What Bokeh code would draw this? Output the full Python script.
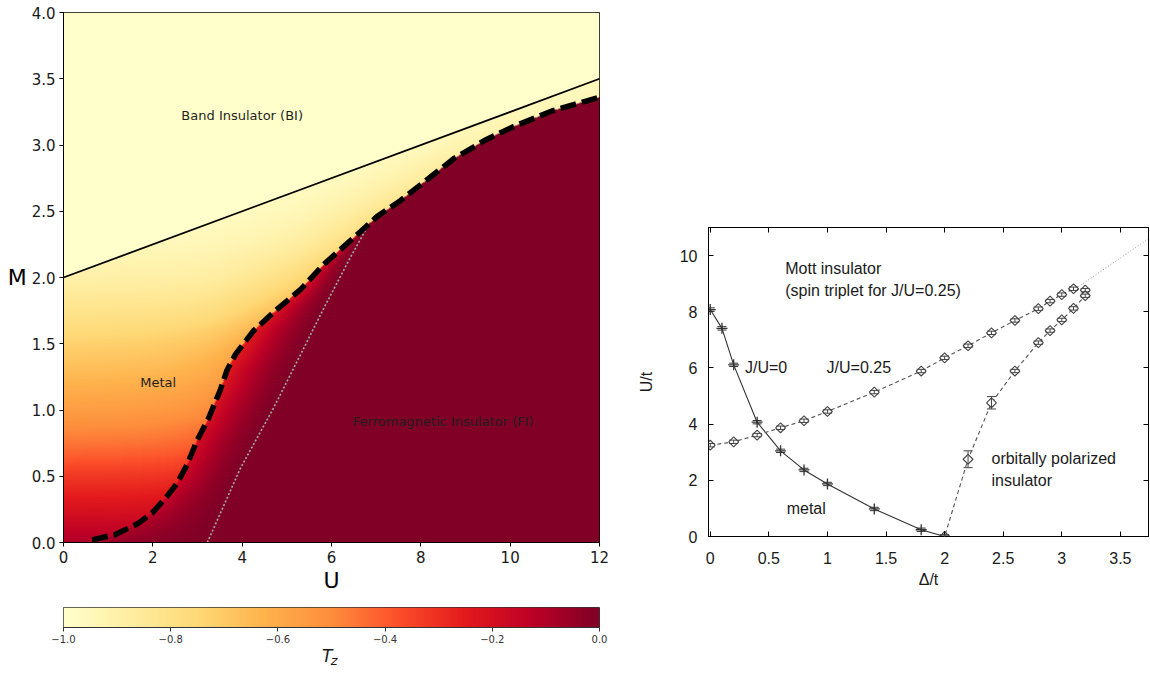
import numpy as np
from bokeh.plotting import figure
from bokeh.layouts import row, column
from bokeh.models import (Range1d, LinearColorMapper, FixedTicker, Label, ColumnDataSource,
                          Whisker, TeeHead, LinearAxis, CustomJSTickFormatter)
from bokeh.embed import file_html
from bokeh.resources import INLINE

# ---------------- data: left panel (phase diagram, T_z map) ----------------
dash_U = [0.64, 1.16, 1.65, 1.98, 2.32, 2.55, 2.77, 2.99, 3.25, 3.51, 3.66, 3.85, 4.26,
          4.78, 5.31, 5.83, 6.43, 7.02, 7.54, 8.07, 8.75, 9.46, 10.08, 10.96, 12.0]
dash_M = [0.02, 0.06, 0.14, 0.22, 0.35, 0.45, 0.59, 0.77, 0.94, 1.15, 1.30, 1.42, 1.60,
          1.76, 1.91, 2.10, 2.28, 2.46, 2.58, 2.72, 2.90, 3.04, 3.14, 3.26, 3.36]
dot_U = [3.22, 3.96, 4.71, 5.31, 5.83, 6.42, 6.80]
dot_M = [0.00, 0.56, 1.02, 1.42, 1.77, 2.15, 2.38]
bi_U = [0.0, 12.0]
bi_M = [2.0, 3.5]
# T_z read along the left edge of the metallic region
metal_M = [0.0, 0.25, 0.5, 0.75, 1.0, 1.25, 1.5, 1.75, 2.0, 2.25, 2.5, 3.0]
metal_Tz = [-0.10, -0.22, -0.33, -0.46, -0.56, -0.65, -0.73, -0.82, -0.90, -0.95, -0.98, -1.0]
# T_z just inside the FI side of the dashed boundary
edge_M = [0.0, 0.5, 1.0, 1.45, 2.0, 2.4]
edge_Tz = [-0.08, -0.17, -0.21, -0.26, -0.20, -0.10]
# extra T_z rise in the metal right next to the boundary
glow_M = [0.0, 0.5, 1.0, 1.5, 2.0, 2.5, 3.0, 3.5]
glow_dT = [0.0, 0.03, 0.06, 0.12, 0.18, 0.17, 0.10, 0.05]
u_ticks = [0, 2, 4, 6, 8, 10, 12]
m_ticks = [0.0, 0.5, 1.0, 1.5, 2.0, 2.5, 3.0, 3.5, 4.0]
cbar_ticks = [-1.0, -0.8, -0.6, -0.4, -0.2, 0.0]

# ---------------- data: right panel ----------------
j0_D = [0.0, 0.1, 0.2, 0.4, 0.6, 0.8, 1.0, 1.4, 1.8, 2.0]
j0_U = [8.08, 7.41, 6.11, 4.07, 3.05, 2.37, 1.87, 0.98, 0.24, 0.0]
j0_err = [0.06, 0.06, 0.06, 0.06, 0.06, 0.06, 0.06, 0.06, 0.06, 0.06]
j25_D = [0.0, 0.2, 0.4, 0.6, 0.8, 1.0, 1.4, 1.8, 2.0, 2.2, 2.4, 2.6, 2.8, 2.9, 3.0, 3.1, 3.2,
         3.2, 3.1, 3.0, 2.9, 2.8, 2.6, 2.4, 2.2, 2.0]
j25_U = [3.25, 3.37, 3.61, 3.87, 4.12, 4.45, 5.14, 5.89, 6.36, 6.79, 7.25, 7.69, 8.11, 8.38,
         8.61, 8.82, 8.77, 8.57, 8.12, 7.71, 7.33, 6.90, 5.89, 4.76, 2.75, 0.0]
j25_err = [0.06, 0.06, 0.06, 0.06, 0.06, 0.06, 0.06, 0.06, 0.06, 0.06, 0.06, 0.06, 0.06, 0.06,
           0.06, 0.06, 0.06, 0.06, 0.06, 0.06, 0.06, 0.06, 0.06, 0.22, 0.30, 0.06]
fit_D = [3.12, 3.74]
fit_U = [8.83, 10.6]
d_ticks = [0, 0.5, 1, 1.5, 2, 2.5, 3, 3.5]
ut_ticks = [0, 2, 4, 6, 8, 10]

# ---------------- colour map (YlOrRd) ----------------
ylorrd9 = ['#ffffcc', '#ffeda0', '#fed976', '#feb24c', '#fd8d3c', '#fc4e2a', '#e31a1c', '#bd0026', '#800026']


def ramp(cols, n):
    rgb = np.array([[int(c[i:i + 2], 16) for i in (1, 3, 5)] for c in cols], float)
    pos = np.linspace(0, 1, len(cols))
    out = []
    for t in np.linspace(0, 1, n):
        r = [int(round(np.interp(t, pos, rgb[:, k]))) for k in range(3)]
        out.append('#%02x%02x%02x' % tuple(r))
    return out


mapper = LinearColorMapper(palette=ramp(ylorrd9, 256), low=-1.0, high=0.0)

# ---------------- T_z field built from the boundaries read above ----------------
NX, NY = 536, 530
uc = (np.arange(NX) + 0.5) * 12.0 / NX
mc = (np.arange(NY) + 0.5) * 4.0 / NY
UU, MM = np.meshgrid(uc, mc)
pxu, pxm = NX / 12.0, NY / 4.0
m_bnd = np.interp(UU, dash_U, dash_M, left=0.0)
u_bnd = np.interp(MM, dash_M, dash_U)
fi = (UU >= dash_U[0]) & (MM < m_bnd)
bi = MM > np.interp(UU, bi_U, bi_M)
h = np.abs(u_bnd - UU) * pxu
v = np.abs(MM - m_bnd) * pxm
dist = h * v / np.sqrt(h ** 2 + v ** 2 + 1e-9)
tz_metal = np.interp(MM, metal_M, metal_Tz) + np.interp(MM, glow_M, glow_dT) * np.exp(-dist / 40.0)
u_dot = np.interp(MM, dot_M, dot_U)
wid = np.where(MM <= dot_M[-1], np.maximum(u_dot - u_bnd, 1e-3), 1e-3)
frac = np.clip((UU - u_bnd) / wid, 0, 1)
tz_fi = np.interp(MM, edge_M, edge_Tz) * (1 - frac) ** 1.5
Tz = np.clip(np.where(fi, tz_fi, np.where(bi, -1.0, tz_metal)), -1.0, 0.0)

MPL = "DejaVu Sans"
GNU = "Liberation Sans"

# ---------------- left panel ----------------
p1 = figure(width=620, height=597, x_range=Range1d(0, 12), y_range=Range1d(0, 4),
            output_backend="svg", toolbar_location=None,
            min_border_left=63, min_border_right=21, min_border_top=12, min_border_bottom=55)
p1.image(image=[Tz], x=0, y=0, dw=12, dh=4, color_mapper=mapper)
p1.line(bi_U, bi_M, line_color="black", line_width=1.8)
p1.line(dot_U, dot_M, line_color="#a9a9b2", line_width=1.6, line_dash="2 2")
p1.line(dash_U, dash_M, line_color="black", line_width=5.5, line_dash="16 6")
for (tx, ty, tt) in [(4.0, 3.22, "Band Insulator (BI)"), (2.12, 1.21, "Metal"),
                     (8.5, 0.91, "Ferromagnetic Insulator (FI)")]:
    p1.add_layout(Label(x=tx, y=ty, text=tt, text_align="center", text_baseline="middle",
                        text_font=MPL, text_font_size="13px", text_color="#1f1f1f"))
p1.xaxis.ticker = FixedTicker(ticks=u_ticks)
p1.yaxis.ticker = FixedTicker(ticks=m_ticks)
p1.yaxis.formatter = CustomJSTickFormatter(code="return tick.toFixed(1);")
p1.xaxis.axis_label = "U"
p1.yaxis.axis_label = "M"
p1.yaxis.axis_label_orientation = "horizontal"
for ax in (p1.xaxis[0], p1.yaxis[0]):
    ax.axis_label_text_font = MPL
    ax.axis_label_text_font_size = "22px"
    ax.axis_label_text_font_style = "normal"
    ax.axis_label_text_color = "black"
    ax.axis_label_standoff = 2
    ax.major_label_text_font = MPL
    ax.major_label_text_font_size = "15px"
    ax.major_label_text_color = "#1a1a1a"
    ax.major_tick_out = 4
    ax.major_tick_in = 0
    ax.major_label_standoff = 4
    ax.minor_tick_line_color = None
    ax.axis_line_color = "black"
    ax.major_tick_line_color = "black"
p1.grid.visible = False
p1.outline_line_color = "black"
p1.outline_line_width = 1

# ---------------- colour bar ----------------
p2 = figure(width=620, height=50, x_range=Range1d(-1, 0), y_range=Range1d(0, 1),
            output_backend="svg", toolbar_location=None,
            min_border_left=63, min_border_right=21, min_border_top=10, min_border_bottom=20)
p2.image(image=[np.linspace(-1, 0, 256)[None, :]], x=-1, y=0, dw=1, dh=1, color_mapper=mapper)
p2.yaxis.visible = False
p2.grid.visible = False
p2.outline_line_color = "#333333"
xa = p2.xaxis[0]
xa.ticker = FixedTicker(ticks=cbar_ticks)
xa.formatter = CustomJSTickFormatter(code="return tick.toFixed(1).replace('-', '\\u2212');")
xa.major_label_text_font = MPL
xa.major_label_text_font_size = "10px"
xa.major_label_text_color = "#333333"
xa.major_tick_out = 4
xa.major_tick_in = 0
xa.major_label_standoff = 3
xa.minor_tick_line_color = None
xa.major_tick_line_color = "#333333"
xa.axis_line_color = "#333333"

# colour-bar title T_z (own strip so the text stays inside a frame)
p4 = figure(width=620, height=26, x_range=Range1d(-1, 0), y_range=Range1d(0, 26),
            output_backend="svg", toolbar_location=None,
            min_border_left=63, min_border_right=21, min_border_top=0, min_border_bottom=0)
p4.axis.visible = False
p4.grid.visible = False
p4.outline_line_color = None
p4.add_layout(Label(x=-0.508, y=17.5, text="T", text_align="center", text_baseline="middle",
                    text_font=MPL, text_font_style="italic", text_font_size="17px", text_color="#1a1a1a"))
p4.add_layout(Label(x=-0.495, y=13.0, text="z", text_align="center", text_baseline="middle",
                    text_font=MPL, text_font_style="italic", text_font_size="13px", text_color="#1a1a1a"))

# ---------------- right panel ----------------
p3 = figure(width=530, height=673, x_range=Range1d(-0.015, 3.74), y_range=Range1d(0, 11),
            output_backend="svg", toolbar_location=None,
            min_border_left=88, min_border_right=2, min_border_top=227, min_border_bottom=137)
p3.grid.visible = False
p3.outline_line_color = "black"
p3.add_layout(LinearAxis(), "above")
p3.add_layout(LinearAxis(), "right")
fmt = "return String(tick);"
for ax in p3.xaxis + p3.yaxis:
    ax.major_tick_in = 5
    ax.major_tick_out = 0
    ax.minor_tick_line_color = None
    ax.axis_line_color = "black"
    ax.major_tick_line_color = "black"
    ax.major_label_text_font = GNU
    ax.major_label_text_font_size = "16px"
    ax.major_label_text_color = "#1a1a1a"
    ax.major_label_standoff = 11
for ax in p3.xaxis:
    ax.ticker = FixedTicker(ticks=d_ticks)
for ax in p3.yaxis:
    ax.ticker = FixedTicker(ticks=ut_ticks)
p3.above[0].formatter = CustomJSTickFormatter(code="return '';")
p3.right[0].formatter = CustomJSTickFormatter(code="return '';")
p3.above[0].major_label_standoff = 0
p3.right[0].major_label_standoff = 0
p3.below[0].major_label_standoff = 15
p3.below[0].formatter = CustomJSTickFormatter(code=fmt)
p3.left[0].formatter = CustomJSTickFormatter(code=fmt)
p3.below[0].axis_label = "\u0394/t"
p3.left[0].axis_label = "U/t"
for ax in (p3.below[0], p3.left[0]):
    ax.axis_label_text_font = GNU
    ax.axis_label_text_font_size = "16px"
    ax.axis_label_text_font_style = "normal"
    ax.axis_label_text_color = "#1a1a1a"
p3.below[0].axis_label_standoff = 4
p3.left[0].axis_label_standoff = 22

src0 = ColumnDataSource(dict(D=j0_D, U=j0_U, lo=[a - b for a, b in zip(j0_U, j0_err)],
                             hi=[a + b for a, b in zip(j0_U, j0_err)]))
src25 = ColumnDataSource(dict(D=j25_D, U=j25_U, lo=[a - b for a, b in zip(j25_U, j25_err)],
                              hi=[a + b for a, b in zip(j25_U, j25_err)]))
p3.line(fit_D, fit_U, line_color="#9a9a9a", line_width=1, line_dash="1 2")
p3.line("D", "U", source=src0, line_color="#333333", line_width=1.1)
p3.line("D", "U", source=src25, line_color="#555555", line_width=1.1, line_dash="4 3")
p3.scatter("D", "U", source=src25, marker="square", angle=np.pi / 4, size=7,
           fill_color="white", line_color="#444444", line_width=1.1)
p3.scatter("D", "U", source=src0, marker="cross", size=11, line_color="#333333", line_width=1.3)
for src, col in ((src0, "#333333"), (src25, "#444444")):
    p3.add_layout(Whisker(source=src, base="D", upper="hi", lower="lo", dimension="height",
                          line_color=col, line_width=1, level="overlay",
                          upper_head=TeeHead(size=9, line_color=col, line_width=1),
                          lower_head=TeeHead(size=9, line_color=col, line_width=1)))
for (tx, ty, tt) in [(0.64, 9.55, "Mott insulator"), (0.64, 8.76, "(spin triplet for J/U=0.25)"),
                     (0.296, 6.01, "J/U=0"), (0.993, 6.01, "J/U=0.25"), (0.652, 0.98, "metal"),
                     (2.40, 2.76, "orbitally polarized"), (2.40, 1.99, "insulator")]:
    p3.add_layout(Label(x=tx, y=ty, text=tt, text_align="left", text_baseline="middle",
                        text_font=GNU, text_font_size="16px", text_color="#1a1a1a"))

layout = row(column(p1, p2, p4), p3)
open("out.html", "w").write(file_html(layout, INLINE))
